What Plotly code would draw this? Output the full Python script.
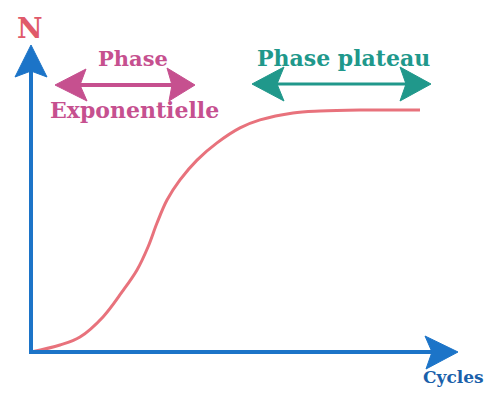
import plotly.graph_objects as go

# Data: growth curve (cycles vs N)
cycles = [0, 2.9, 4.9, 7.2, 9.1, 10.6, 11.7, 12.6, 13.6, 14.9, 16.6, 18.6, 20.9, 22.9, 26.2, 28.9, 32.9, 38.9]
n_values = [0, 2.9, 6.2, 14.5, 24.8, 33.9, 43.4, 53.3, 62.8, 71.1, 79.3, 86.4, 92.6, 95.9, 98.8, 99.6, 100.0, 100.0]

x_label = "Cycles"
y_label = "N"
phase1_label = ["Phase", "Exponentielle"]
phase2_label = "Phase plateau"

W, H = 485, 408
OX, OY = 31, 352      # origin pixel
SX, SY = 10.0, 2.42   # px per unit


def X(px):
    return (px - OX) / SX


def Y(py):
    return (OY - py) / SY


def path(points):
    return "M " + " L ".join(f"{X(a)},{Y(b)}" for a, b in points) + " Z"


AX_BLUE = "#1c74c8"
CURVE = "#e8727c"
MAG = "#c6508f"
TEAL = "#20988b"

fig = go.Figure()
fig.add_trace(go.Scatter(x=cycles, y=n_values, mode="lines",
                         line=dict(color=CURVE, width=3, shape="spline", smoothing=1.0),
                         hoverinfo="skip", showlegend=False))

shapes = []
# y axis
shapes.append(dict(type="line", x0=X(31), y0=Y(353), x1=X(31), y1=Y(70),
                   line=dict(color=AX_BLUE, width=4)))
shapes.append(dict(type="path", path=path([(31, 45), (47, 77), (31, 71), (15, 77)]),
                   fillcolor=AX_BLUE, line=dict(color=AX_BLUE, width=1)))
# x axis
shapes.append(dict(type="line", x0=X(29), y0=Y(352), x1=X(435), y1=Y(352),
                   line=dict(color=AX_BLUE, width=4)))
shapes.append(dict(type="path", path=path([(458, 352), (425, 336), (432, 352), (426, 369)]),
                   fillcolor=AX_BLUE, line=dict(color=AX_BLUE, width=1)))
# magenta double arrow
shapes.append(dict(type="line", x0=X(75), y0=Y(85), x1=X(175), y1=Y(85),
                   line=dict(color=MAG, width=4)))
shapes.append(dict(type="path", path=path([(55, 85), (86, 69), (80, 85), (87, 101)]),
                   fillcolor=MAG, line=dict(color=MAG, width=1)))
shapes.append(dict(type="path", path=path([(195, 85), (167, 68), (172, 85), (169, 101)]),
                   fillcolor=MAG, line=dict(color=MAG, width=1)))
# teal double arrow
shapes.append(dict(type="line", x0=X(275), y0=Y(84), x1=X(408), y1=Y(84),
                   line=dict(color=TEAL, width=3)))
shapes.append(dict(type="path", path=path([(252, 84), (284, 67), (277, 84), (284, 101)]),
                   fillcolor=TEAL, line=dict(color=TEAL, width=1)))
shapes.append(dict(type="path", path=path([(431, 84), (400, 67), (406, 84), (400, 101)]),
                   fillcolor=TEAL, line=dict(color=TEAL, width=1)))

FONT = "DejaVu Serif"
annotations = [
    dict(x=X(30), y=Y(28), text=f"<b>{y_label}</b>", showarrow=False,
         font=dict(family=FONT, size=28, color="#e05a6a"), xanchor="center", yanchor="middle"),
    dict(x=X(453), y=Y(377), text=f"<b>{x_label}</b>", showarrow=False,
         font=dict(family=FONT, size=17, color="#1a60aa"), xanchor="center", yanchor="middle"),
    dict(x=X(133), y=Y(58), text=f"<b>{phase1_label[0]}</b>", showarrow=False,
         font=dict(family=FONT, size=21, color=MAG), xanchor="center", yanchor="middle"),
    dict(x=X(134), y=Y(110), text=f"<b>{phase1_label[1]}</b>", showarrow=False,
         font=dict(family=FONT, size=22, color=MAG), xanchor="center", yanchor="middle"),
    dict(x=X(343), y=Y(58), text=f"<b>{phase2_label}</b>", showarrow=False,
         font=dict(family=FONT, size=22, color=TEAL), xanchor="center", yanchor="middle"),
]

fig.update_layout(
    width=W, height=H,
    margin=dict(l=0, r=0, t=0, b=0),
    paper_bgcolor="white", plot_bgcolor="white",
    xaxis=dict(range=[X(0), X(W)], visible=False, fixedrange=True),
    yaxis=dict(range=[Y(H), Y(0)], visible=False, fixedrange=True),
    shapes=shapes, annotations=annotations,
    showlegend=False,
)

fig.write_html("out.html", config={"displayModeBar": False},
               post_script="document.body.style.margin='0';")
